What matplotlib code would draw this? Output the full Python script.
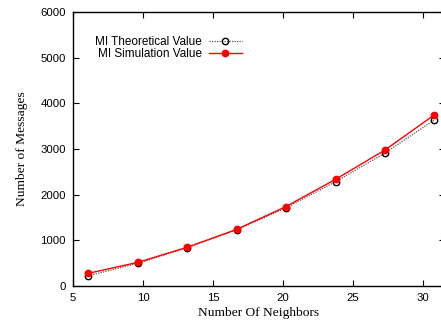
import matplotlib

matplotlib.use("Agg")
import matplotlib.pyplot as plt

# Number of neighbours vs number of messages (MI scheme)
neighbors = [6.1, 9.65, 13.15, 16.7, 20.2, 23.75, 27.25, 30.8]
theoretical = [226, 497, 839, 1230, 1708, 2284, 2906, 3635]
simulation = [278, 519, 847, 1241, 1737, 2336, 2971, 3745]

SANS = "Liberation Sans"
SERIF = "Liberation Serif"

fig = plt.figure(figsize=(4.41, 3.25), dpi=100)
# right spine sits just past the image edge, as in the reference
ax = fig.add_axes([73 / 441, 39 / 325, 372 / 441, 274 / 325])

ax.plot(neighbors, theoretical, color="#555555", ls=(0, (1, 1)), lw=0.9,
        marker="o", mfc="none", mec="black", ms=4.6, mew=1.0,
        label="MI Theoretical Value")
ax.plot(neighbors, simulation, color="red", ls="-", lw=1.0,
        marker="o", mfc="red", mec="red", ms=4.6,
        label="MI Simulation Value")

ax.set_xlim(5, 5 + 372 / 14)
ax.set_ylim(0, 6000)
ax.set_xticks([5, 10, 15, 20, 25, 30])
ax.set_yticks(range(0, 6001, 1000))
ax.tick_params(direction="in", top=True, right=True, length=4, width=0.8,
               labelsize=8.2, pad=5)
for lab in ax.get_xticklabels() + ax.get_yticklabels():
    lab.set_fontfamily(SANS)
for s in ax.spines.values():
    s.set_linewidth(1.0)

ax.set_xlabel("Number Of Neighbors", fontfamily=SERIF, fontsize=9.7, labelpad=3)
ax.set_ylabel("Number of Messages", fontfamily=SERIF, fontsize=9.7, labelpad=9)

ax.legend(loc="upper left", bbox_to_anchor=(0.046, 0.93), frameon=False,
          markerfirst=False, prop={"family": SANS, "size": 8.5},
          handlelength=2.8, handletextpad=0.6, labelspacing=0.0,
          borderaxespad=0.0)

fig.savefig("out.png", dpi=100)
